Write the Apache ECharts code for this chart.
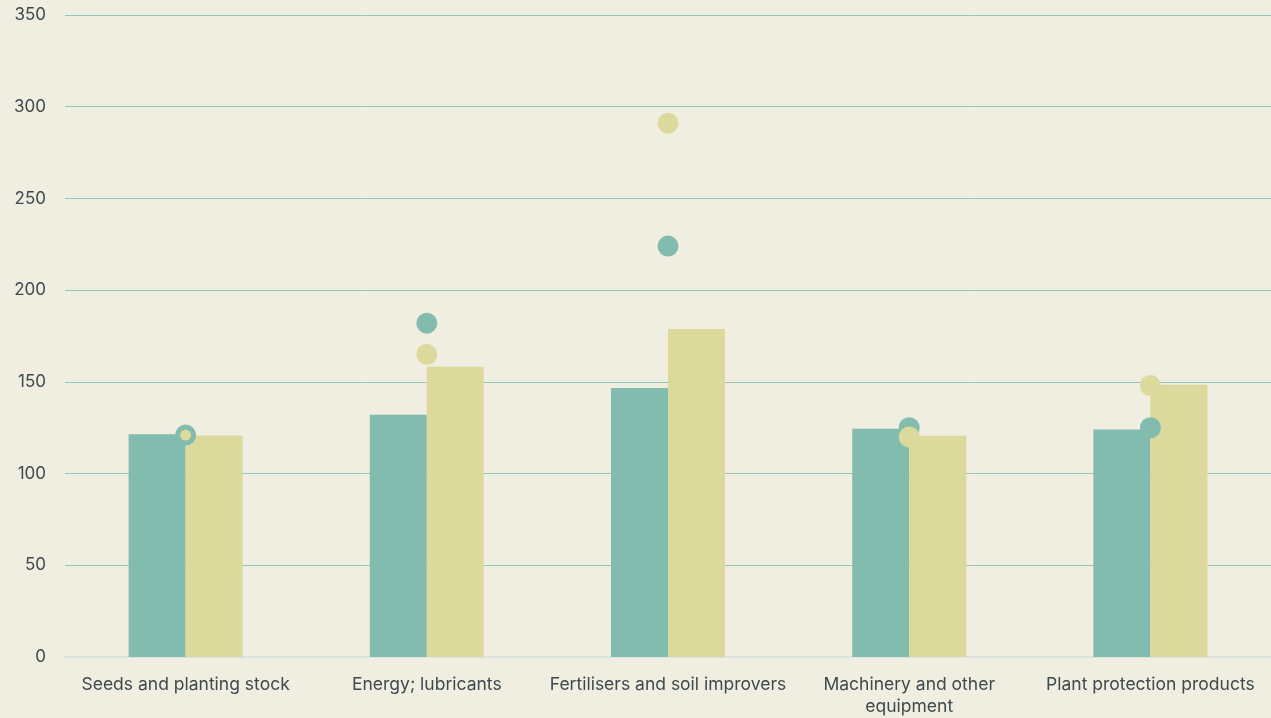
<!DOCTYPE html>
<html><head><meta charset="utf-8">
<script src="https://cdn.jsdelivr.net/npm/echarts@6/dist/echarts.min.js"></script>
<style>html,body{margin:0;padding:0;background:#f0ede1;}#c{width:1271px;height:718px;}</style>
</head><body><div id="c"></div>
<script>
const categories = ['Seeds and planting stock', 'Energy; lubricants', 'Fertilisers and soil improvers', 'Machinery and other\nequipment', 'Plant protection products'];
const barTeal = [121.5, 132, 146.7, 124.5, 124];
const barYellow = [120.8, 158.2, 178.8, 120.6, 148.4];
const dotTeal = [121, 182, 224, 125, 125];
const dotYellow = [121, 165, 291, 120, 148];
const yTicks = [0, 50, 100, 150, 200, 250, 300, 350];

const TEAL = '#82bcaf', YELLOW = '#dbd99b';
const chart = echarts.init(document.getElementById('c'));
chart.setOption({
  backgroundColor: '#f0ede1',
  animation: false,
  grid: { left: 65, right: 0, top: 15, bottom: 56, containLabel: false },
  xAxis: {
    type: 'category', data: categories,
    axisLine: { lineStyle: { color: '#dbe2e0', width: 2 } },
    axisTick: { show: false },
    axisLabel: { color: '#3e4a4e', fontSize: 17.5, fontFamily: 'Inter', margin: 17, lineHeight: 22, interval: 0 }
  },
  yAxis: {
    type: 'value', min: yTicks[0], max: yTicks[yTicks.length - 1], interval: 50,
    axisLine: { show: false }, axisTick: { show: false },
    axisLabel: { color: '#3e4a4e', fontSize: 17, fontFamily: 'Inter', margin: 19 },
    splitLine: { lineStyle: { color: '#93c6b8', width: 1 } }
  },
  series: [
    { type: 'bar', data: barTeal, barWidth: 57, barGap: '0%', itemStyle: { color: TEAL } },
    { type: 'bar', data: barYellow, barWidth: 57, barGap: '0%', itemStyle: { color: YELLOW } },
    { type: 'scatter', data: dotTeal, symbolSize: 21, itemStyle: { color: TEAL, opacity: 1 }, z: 5 },
    { type: 'scatter', data: dotYellow, symbolSize: (v, p) => p.dataIndex === 0 ? 11 : 21, itemStyle: { color: YELLOW, opacity: 1 }, z: 6 }
  ]
});
</script></body></html>
